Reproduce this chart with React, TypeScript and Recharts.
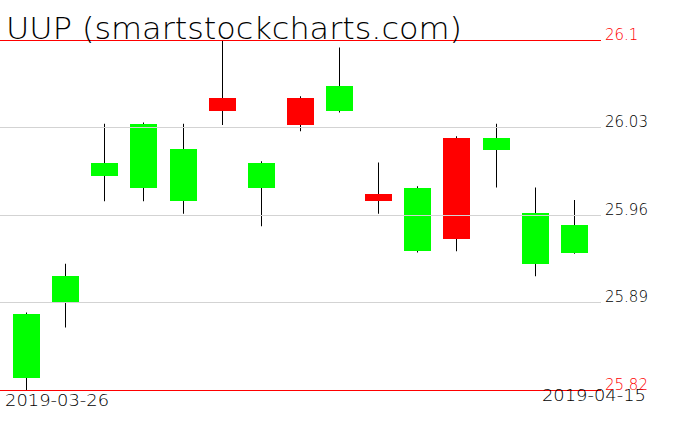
import React from 'react';
import { ComposedChart, Bar, XAxis, YAxis, ReferenceLine } from 'recharts';

const dates = [
  '2019-03-26', '2019-03-27', '2019-03-28', '2019-03-29', '2019-04-01',
  '2019-04-02', '2019-04-03', '2019-04-04', '2019-04-05', '2019-04-08',
  '2019-04-09', '2019-04-10', '2019-04-11', '2019-04-12', '2019-04-15',
];
const opens = [25.830, 25.890, 25.991, 25.982, 25.971, 26.054, 25.982, 26.054, 26.043, 25.977, 25.931, 26.022, 26.012, 25.921, 25.930];
const highs = [25.882, 25.921, 26.033, 26.034, 26.033, 26.100, 26.003, 26.055, 26.094, 26.002, 25.983, 26.023, 26.033, 25.982, 25.972];
const lows = [25.820, 25.870, 25.971, 25.971, 25.961, 26.032, 25.951, 26.027, 26.042, 25.961, 25.930, 25.931, 25.982, 25.911, 25.929];
const closes = [25.881, 25.911, 26.002, 26.033, 26.013, 26.043, 26.002, 26.032, 26.063, 25.971, 25.982, 25.941, 26.022, 25.962, 25.952];

const yTicks = [25.82, 25.89, 25.96, 26.03, 26.1];
const redTicks = [25.82, 26.1];
const xTickLabels = [dates[0], dates[dates.length - 1]];
const title = 'UUP (smartstockcharts.com)';

const data = dates.map((d, i) => ({
  date: d,
  open: opens[i],
  high: highs[i],
  low: lows[i],
  close: closes[i],
  range: [lows[i], highs[i]],
}));

const FONT = '"DejaVu Sans", sans-serif';

const Candle = (props: any) => {
  const { x, y, width, height, payload } = props;
  const { open, close, high, low } = payload;
  const k = height / (high - low);
  const top = y + (high - Math.max(open, close)) * k;
  const bot = y + (high - Math.min(open, close)) * k;
  const cx = Math.floor(x + width / 2) + 0.5;
  const color = close >= open ? '#00ff00' : '#ff0000';
  return (
    <g>
      <line x1={cx} x2={cx} y1={y} y2={y + height} stroke="#000" strokeWidth={1} />
      <rect
        x={Math.round(x)}
        y={Math.round(top)}
        width={Math.round(width)}
        height={Math.max(Math.round(bot) - Math.round(top), 1)}
        fill={color}
        shapeRendering="crispEdges"
      />
    </g>
  );
};

const YTick = (props: any) => {
  const { x, y, payload } = props;
  const v = payload.value;
  const red = redTicks.includes(v);
  return (
    <text
      x={x}
      y={y - 0.5}
      fill={red ? '#ff0000' : '#000000'}
      fontFamily={FONT}
      fontWeight={200}
      fontSize={15}
      textAnchor="start"
    >
      {String(v)}
    </text>
  );
};

const XTick = (props: any) => {
  const { x, y, payload } = props;
  const first = payload.value === xTickLabels[0];
  return (
    <text
      x={first ? x - 21.5 : x + 71.5}
      y={first ? y + 16 : y + 11}
      fill="#000"
      fontFamily={FONT}
      fontWeight={200}
      fontSize={15}
      textAnchor={first ? 'start' : 'end'}
      textLength={104}
      lengthAdjust="spacingAndGlyphs"
    >
      {payload.value}
    </text>
  );
};

export default function App() {
  return (
    <div style={{ position: 'absolute', left: 0, top: 0, width: 676, height: 431, background: '#fff' }}>
      <ComposedChart
        width={676}
        height={431}
        data={data}
        margin={{ top: 40, right: 0, bottom: 0, left: 0 }}
      >
        <XAxis
          dataKey="date"
          height={41}
          ticks={xTickLabels}
          interval={0}
          axisLine={false}
          tickLine={false}
          tickSize={0}
          tickMargin={0}
          padding={{ left: 7, right: 7 }}
          tick={<XTick />}
        />
        <YAxis
          orientation="right"
          width={75}
          domain={[25.82, 26.1]}
          ticks={yTicks}
          axisLine={false}
          tickLine={false}
          tickSize={0}
          tickMargin={4}
          tick={<YTick />}
          allowDataOverflow
        />
        <Bar dataKey="range" barSize={27} shape={<Candle />} isAnimationActive={false} />
        {yTicks.map((t) => (
          <ReferenceLine
            key={t}
            y={t}
            stroke={redTicks.includes(t) ? '#ff0000' : '#d3d3d3'}
            strokeWidth={1}
            shapeRendering="crispEdges"
          />
        ))}
      </ComposedChart>
      <svg
        width={676}
        height={60}
        style={{ position: 'absolute', left: 0, top: 0, pointerEvents: 'none' }}
      >
        <text
          x={6}
          y={38.5}
          fontFamily={FONT}
          fontWeight={200}
          fontSize={31}
          fill="#000"
          textLength={456}
          lengthAdjust="spacingAndGlyphs"
        >
          {title}
        </text>
      </svg>
    </div>
  );
}
